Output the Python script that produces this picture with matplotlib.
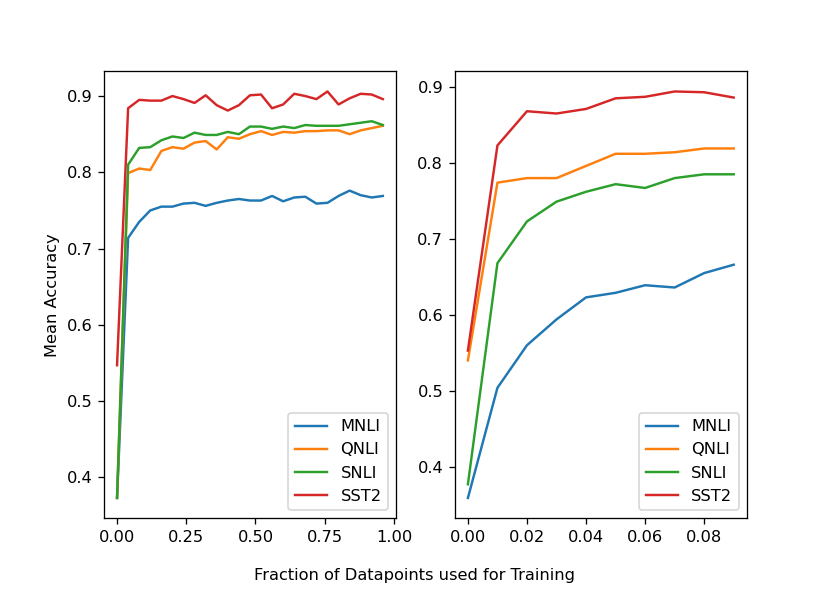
import numpy as np
import matplotlib
matplotlib.use("Agg")
import matplotlib.pyplot as plt

# Left panel: fractions 0.00 .. 0.96
frac_full = [0.00, 0.04, 0.08, 0.12, 0.16, 0.20, 0.24, 0.28, 0.32, 0.36, 0.40, 0.44, 0.48,
             0.52, 0.56, 0.60, 0.64, 0.68, 0.72, 0.76, 0.80, 0.84, 0.88, 0.92, 0.96]
mnli_full = [0.373, 0.714, 0.735, 0.750, 0.755, 0.755, 0.759, 0.760, 0.756, 0.760, 0.763,
             0.765, 0.763, 0.763, 0.769, 0.762, 0.767, 0.768, 0.759, 0.760, 0.769, 0.776,
             0.770, 0.767, 0.769]
qnli_full = [0.373, 0.799, 0.805, 0.803, 0.828, 0.833, 0.831, 0.839, 0.841, 0.830, 0.846,
             0.844, 0.850, 0.854, 0.849, 0.853, 0.852, 0.854, 0.854, 0.855, 0.855, 0.850,
             0.855, 0.858, 0.861]
snli_full = [0.373, 0.810, 0.832, 0.833, 0.842, 0.847, 0.845, 0.852, 0.849, 0.849, 0.853,
             0.850, 0.860, 0.860, 0.857, 0.860, 0.858, 0.862, 0.861, 0.861, 0.861, 0.863,
             0.865, 0.867, 0.862]
sst2_full = [0.547, 0.884, 0.895, 0.894, 0.894, 0.900, 0.896, 0.891, 0.901, 0.888, 0.881,
             0.888, 0.901, 0.902, 0.884, 0.889, 0.903, 0.900, 0.896, 0.906, 0.889, 0.897,
             0.903, 0.902, 0.896]

# Right panel: fractions 0.00 .. 0.09
frac_small = [0.00, 0.01, 0.02, 0.03, 0.04, 0.05, 0.06, 0.07, 0.08, 0.09]
mnli_small = [0.359, 0.504, 0.560, 0.594, 0.623, 0.629, 0.639, 0.636, 0.655, 0.666]
qnli_small = [0.540, 0.774, 0.780, 0.780, 0.796, 0.812, 0.812, 0.814, 0.819, 0.819]
snli_small = [0.377, 0.668, 0.723, 0.749, 0.762, 0.772, 0.767, 0.780, 0.785, 0.785]
sst2_small = [0.553, 0.823, 0.868, 0.865, 0.871, 0.885, 0.887, 0.894, 0.893, 0.886]

task_names = ["MNLI", "QNLI", "SNLI", "SST2"]

# dpi a bit above 100 so fonts and lines come out as large as in the original
dpi = 117
fig, (ax1, ax2) = plt.subplots(1, 2, figsize=(830 / dpi, 593 / dpi), dpi=dpi)
fig.subplots_adjust(left=0.125, right=0.9, top=0.88, bottom=0.126, wspace=0.2)

for ys, name in zip([mnli_full, qnli_full, snli_full, sst2_full], task_names):
    ax1.plot(frac_full, ys, label=name)
for ys, name in zip([mnli_small, qnli_small, snli_small, sst2_small], task_names):
    ax2.plot(frac_small, ys, label=name)

ax1.set_xticks([0.0, 0.25, 0.5, 0.75, 1.0])
ax2.set_xticks([0.0, 0.02, 0.04, 0.06, 0.08])

ax1.set_ylabel("Mean Accuracy")
ax1.legend(loc="lower right")
ax2.legend(loc="lower right")

fig.text(0.5, 0.022, "Fraction of Datapoints used for Training", ha="center", va="baseline")

plt.savefig("out.png", dpi=dpi)
